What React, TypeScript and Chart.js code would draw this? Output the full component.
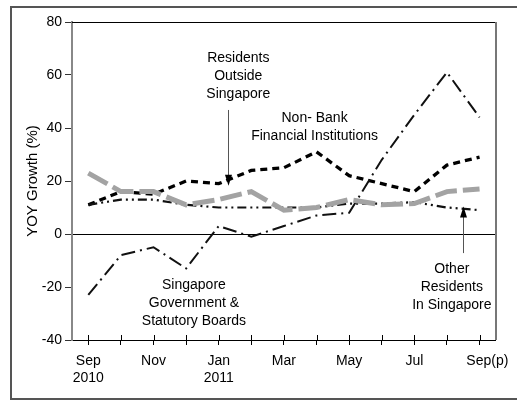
import React, { useEffect, useRef } from 'react';
import { Chart, registerables } from 'chart.js';

Chart.register(...registerables);

const months = ['Sep 2010', 'Oct', 'Nov', 'Dec', 'Jan 2011', 'Feb', 'Mar', 'Apr', 'May', 'Jun', 'Jul', 'Aug', 'Sep(p)'];
const tickLabels: (string | string[])[] = [['Sep', '2010'], '', 'Nov', '', ['Jan', '2011'], '', 'Mar', '', 'May', '', 'Jul', '', '    Sep(p)'];
const yTickValues = [-40, -20, 0, 20, 40, 60, 80];

const residentsOutside = [11, 16, 15, 20, 19, 24, 25, 31, 22, 19, 16, 26, 29];
const nonBank = [23, 16, 16, 11, 13, 16, 9, 10, 13, 11, 11.5, 16, 17];
const otherResidents = [11, 13, 13, 11, 10, 10, 10, 10, 11.5, 11.5, 12, 10, 9];
const government = [-23, -8, -5, -13, 3, -1, 3, 7, 8, 28, 45, 61, 44];

const FONT = '"Liberation Sans", Arial, Helvetica, sans-serif';

const notes = [
  { lines: ['Residents', 'Outside', 'Singapore'], x: 4.6, y: 66.4 },
  { lines: ['Non- Bank', 'Financial Institutions'], x: 6.94, y: 43.8 },
  { lines: ['Singapore', 'Government &', 'Statutory Boards'], x: 3.24, y: -19.2 },
  { lines: ['Other', 'Residents', 'In Singapore'], x: 11.15, y: -13.2 },
];
const arrows = [
  { x: 4.27, from: 46.8, to: 18.2 },
  { x: 11.48, from: -7.2, to: 10.4 },
];

const xPix = (chart: any, v: number) => {
  const s = chart.scales.x;
  const a = s.getPixelForValue(0);
  const b = s.getPixelForValue(1);
  return a + (b - a) * v;
};

const decorPlugin = {
  id: 'decor',
  beforeDraw(chart: any) {
    const ctx = chart.ctx;
    ctx.save();
    ctx.strokeStyle = '#555';
    ctx.lineWidth = 2;
    ctx.strokeRect(11, 7, 540, 392);
    ctx.restore();
  },
  afterDatasetsDraw(chart: any) {
    const ctx = chart.ctx;
    const { chartArea } = chart;
    const ys = chart.scales.y;
    ctx.save();
    // plot frame top and right
    ctx.strokeStyle = '#000';
    ctx.lineWidth = 1;
    ctx.beginPath();
    ctx.moveTo(chartArea.left, Math.round(chartArea.top) + 0.5);
    ctx.lineTo(chartArea.right, Math.round(chartArea.top) + 0.5);
    ctx.stroke();
    ctx.strokeStyle = '#777';
    ctx.lineWidth = 2;
    ctx.beginPath();
    ctx.moveTo(Math.round(chartArea.right), chartArea.top);
    ctx.lineTo(Math.round(chartArea.right), chartArea.bottom);
    ctx.stroke();
    // x tick marks above axis
    ctx.strokeStyle = '#000';
    ctx.lineWidth = 1;
    for (let i = 0; i < months.length; i++) {
      const px = Math.round(xPix(chart, i)) + 0.5;
      ctx.beginPath();
      ctx.moveTo(px, chartArea.bottom - 5);
      ctx.lineTo(px, chartArea.bottom);
      ctx.stroke();
    }
    // annotations
    ctx.fillStyle = '#000';
    ctx.font = `14px ${FONT}`;
    ctx.textAlign = 'center';
    ctx.textBaseline = 'middle';
    notes.forEach((n) => {
      const cx = xPix(chart, n.x);
      const cy = ys.getPixelForValue(n.y);
      n.lines.forEach((l, i) => ctx.fillText(l, cx, cy + i * 18));
    });
    arrows.forEach((a) => {
      const ax = Math.round(xPix(chart, a.x)) + 0.5;
      const y1 = ys.getPixelForValue(a.from);
      const y2 = ys.getPixelForValue(a.to);
      const dir = y2 > y1 ? 1 : -1;
      ctx.strokeStyle = '#555';
      ctx.lineWidth = 1;
      ctx.beginPath();
      ctx.moveTo(ax, y1);
      ctx.lineTo(ax, y2 - dir * 8);
      ctx.stroke();
      ctx.fillStyle = '#000';
      ctx.beginPath();
      ctx.moveTo(ax, y2);
      ctx.lineTo(ax - 3.5, y2 - dir * 11);
      ctx.lineTo(ax + 3.5, y2 - dir * 11);
      ctx.closePath();
      ctx.fill();
    });
    ctx.restore();
  },
};

export default function App() {
  const ref = useRef<HTMLCanvasElement | null>(null);
  useEffect(() => {
    if (!ref.current) return;
    const line = (label: string, data: number[], color: string, width: number, dash: number[]) => ({
      label,
      data,
      borderColor: color,
      backgroundColor: color,
      borderWidth: width,
      borderDash: dash,
      borderCapStyle: 'butt' as const,
      pointRadius: 0,
      tension: 0,
      fill: false,
    });
    const chart = new Chart(ref.current, {
      type: 'line',
      data: {
        labels: months,
        datasets: [
          line('Non-Bank Financial Institutions', nonBank, '#a3a3a3', 5, [22, 6]),
          line('Other Residents In Singapore', otherResidents, '#111', 2.2, [9, 4, 2, 4, 2, 4]),
          line('Singapore Government & Statutory Boards', government, '#111', 2, [14, 5, 2, 5]),
          line('Residents Outside Singapore', residentsOutside, '#000', 3.3, [7, 5]),
        ],
      },
      options: {
        responsive: false,
        animation: false,
        layout: { padding: { top: 22, right: 17, left: 0, bottom: 0 } },
        plugins: { legend: { display: false }, tooltip: { enabled: false } },
        scales: {
          x: {
            type: 'category',
            offset: true,
            grid: { offset: false, drawOnChartArea: false, tickLength: 5, color: '#000', lineWidth: 1 },
            border: { color: '#000', width: 1 },
            ticks: {
              autoSkip: false,
              maxRotation: 0,
              minRotation: 0,
              padding: 8,
              color: '#000',
              font: { family: FONT, size: 14 },
              callback: (_v: any, i: number) => tickLabels[i],
            },
            afterFit: (s: any) => { s.height = 60; },
          },
          y: {
            min: -40,
            max: 80,
            afterBuildTicks: (s: any) => { s.ticks = yTickValues.map((v) => ({ value: v })); },
            grid: {
              drawOnChartArea: true,
              color: (c: any) => (c.tick && c.tick.value === 0 ? '#000' : 'rgba(0,0,0,0)'),
              tickColor: '#333',
              tickLength: 7,
              lineWidth: 1,
            },
            border: { color: '#888', width: 2 },
            ticks: { padding: 3, color: '#000', font: { family: FONT, size: 14 } },
            title: {
              display: true,
              text: 'YOY Growth (%)',
              color: '#000',
              font: { family: FONT, size: 15 },
              padding: { top: 24, bottom: 0 },
            },
            afterFit: (s: any) => { s.width = 72; },
          },
        },
      },
      plugins: [decorPlugin],
    });
    return () => chart.destroy();
  }, []);
  return (
    <canvas
      ref={ref}
      width={517}
      height={400}
      style={{ position: 'fixed', left: 0, top: 0, display: 'block', background: '#fff' }}
    />
  );
}
